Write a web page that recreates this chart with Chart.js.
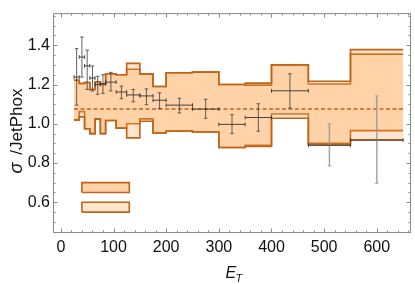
<!DOCTYPE html>
<html>
<head>
<meta charset="utf-8">
<script src="https://cdn.jsdelivr.net/npm/chart.js@4.4.1/dist/chart.umd.min.js"></script>
<style>
  html, body { margin: 0; padding: 0; background: #fff; }
  #wrap { width: 415px; height: 284px; position: relative; }
</style>
</head>
<body>
<div id="wrap"><canvas id="chart"></canvas></div>
<script>
// E_T bin edges
const binEdges = [25, 35, 45, 55, 65, 75, 85, 105, 125, 150, 175, 200, 250, 300, 350, 400, 470, 550, 650];

// theory bands (ratio to JetPhox), one value per bin
const band1Hi = [1.222, 1.205, 1.21, 1.175, 1.214, 1.20, 1.255, 1.25, 1.308, 1.253, 1.19, 1.26, 1.263, 1.20, 1.207, 1.30, 1.217, 1.378];
const band1Lo = [1.02, 1.035, 0.975, 0.95, 1.025, 0.95, 1.017, 0.978, 0.928, 1.013, 0.953, 0.963, 0.958, 0.879, 0.885, 1.028, 0.895, 0.917];
const band2Hi = [1.222, 1.205, 1.21, 1.175, 1.214, 1.20, 1.255, 1.25, 1.278, 1.253, 1.19, 1.26, 1.263, 1.20, 1.197, 1.30, 1.203, 1.355];
const band2Lo = [1.02, 1.062, 0.975, 0.95, 1.025, 0.95, 1.017, 0.978, 1.0, 1.025, 0.953, 0.963, 0.958, 0.879, 0.89, 1.05, 0.90, 0.965];

// measured points
const ptX     = [30, 40, 50, 60, 70, 80, 95, 115, 137.5, 162.5, 187.5, 225, 275, 325, 375, 435, 510, 600];
const ptY     = [1.238, 1.34, 1.295, 1.233, 1.20, 1.205, 1.212, 1.162, 1.147, 1.142, 1.12, 1.095, 1.075, 0.997, 1.032, 1.168, 0.89, 0.917];
const ptErrHi = [1.383, 1.442, 1.375, 1.295, 1.242, 1.25, 1.262, 1.192, 1.175, 1.178, 1.158, 1.13, 1.125, 1.047, 1.102, 1.255, 1.0, 1.142];
const ptErrLo = [1.095, 1.238, 1.175, 1.167, 1.15, 1.155, 1.167, 1.128, 1.112, 1.097, 1.078, 1.055, 1.028, 0.95, 0.962, 1.08, 0.785, 0.697];
const grayFrom = 16; // last points drawn with grey vertical bars

// dashed reference line
const refLevel = 1.075;
const refRange = [25, 650];

// legend swatches (no text)
const swatchX = [40, 130];
const swatch1Y = [0.65, 0.70];
const swatch2Y = [0.55, 0.60];

// ticks
const xMajor = [0, 100, 200, 300, 400, 500, 600];
const yMajor = [0.6, 0.8, 1.0, 1.2, 1.4];
const xMinorStep = 20;
const yMinorStep = 0.05;

const EDGE = '#bf6419';
const BAND_FILL = 'rgba(255,159,66,0.27)';
const FRAME = '#8a8a8a';
const FONT = "'Liberation Sans', Arial, Helvetica, sans-serif";

function stepData(vals) {
    const d = vals.map((v, i) => ({ x: binEdges[i], y: v }));
    d.push({ x: binEdges[binEdges.length - 1], y: vals[vals.length - 1] });
    return d;
}

// horizontal bars with gaps
const hBars = [];
ptX.forEach((x, i) => {
    hBars.push({ x: binEdges[i], y: ptY[i] }, { x: binEdges[i + 1], y: ptY[i] }, { x: binEdges[i + 1], y: null });
});
const vBarsDark = [], vBarsGray = [];
ptX.forEach((x, i) => {
    const arr = i >= grayFrom ? vBarsGray : vBarsDark;
    arr.push({ x: x, y: ptErrLo[i] }, { x: x, y: ptErrHi[i] }, { x: x, y: null });
});

function box(xs, ys) {
    return [
        { x: xs[0], y: ys[0] }, { x: xs[0], y: ys[1] }, { x: xs[1], y: ys[1] },
        { x: xs[1], y: ys[0] }, { x: xs[0], y: ys[0] }
    ];
}

const bandLine = { stepped: true, borderColor: EDGE, borderWidth: 1.6, pointRadius: 0, order: 10 };

const datasets = [
    { ...bandLine, data: stepData(band1Hi), fill: false },
    { ...bandLine, data: stepData(band1Lo), fill: '-1', backgroundColor: BAND_FILL },
    { ...bandLine, data: stepData(band2Hi), fill: false },
    { ...bandLine, data: stepData(band2Lo), fill: '-1', backgroundColor: BAND_FILL },
    // swatches
    { data: [{ x: swatchX[0], y: swatch1Y[1] }, { x: swatchX[1], y: swatch1Y[1] }], borderWidth: 0, pointRadius: 0, fill: false, order: 9 },
    { data: [{ x: swatchX[0], y: swatch1Y[0] }, { x: swatchX[1], y: swatch1Y[0] }], borderWidth: 0, pointRadius: 0, fill: '-1', backgroundColor: 'rgb(255,210,167)', order: 9 },
    { data: [{ x: swatchX[0], y: swatch2Y[1] }, { x: swatchX[1], y: swatch2Y[1] }], borderWidth: 0, pointRadius: 0, fill: false, order: 9 },
    { data: [{ x: swatchX[0], y: swatch2Y[0] }, { x: swatchX[1], y: swatch2Y[0] }], borderWidth: 0, pointRadius: 0, fill: '-1', backgroundColor: 'rgb(255,229,204)', order: 9 },
    { data: box(swatchX, swatch1Y), borderColor: EDGE, borderWidth: 1.6, pointRadius: 0, fill: false, order: 8 },
    { data: box(swatchX, swatch2Y), borderColor: EDGE, borderWidth: 1.6, pointRadius: 0, fill: false, order: 8 },
    // reference
    { data: [{ x: refRange[0], y: refLevel }, { x: refRange[1], y: refLevel }], borderColor: EDGE, borderWidth: 1.5, borderDash: [4, 2.5], pointRadius: 0, fill: false, order: 5 },
    // error bars
    { data: vBarsGray, borderColor: 'rgba(150,150,150,0.9)', borderWidth: 1.4, spanGaps: false, fill: false,
      pointStyle: 'line', pointRadius: 1.8, pointBorderColor: 'rgba(150,150,150,0.9)', pointBorderWidth: 1, pointRotation: 0, order: 3 },
    { data: vBarsDark, borderColor: 'rgba(60,60,60,0.8)', borderWidth: 1, spanGaps: false, fill: false,
      pointStyle: 'line', pointRadius: 1.8, pointBorderColor: 'rgba(60,60,60,0.8)', pointBorderWidth: 1, pointRotation: 0, order: 2 },
    { data: hBars, borderColor: 'rgba(50,50,50,0.9)', borderWidth: 1, spanGaps: false, fill: false,
      pointStyle: 'line', pointRadius: 1.8, pointBorderColor: 'rgba(50,50,50,0.9)', pointBorderWidth: 1, pointRotation: 90, order: 1 }
];

// frame, inward ticks and axis titles
const framePlugin = {
    id: 'frame',
    afterDraw(chart) {
        const { ctx, chartArea: a, scales } = chart;
        const L = a.left - 0.5, R = a.right + 0.5, T = a.top, B = a.bottom + 0.5;
        ctx.save();
        ctx.strokeStyle = FRAME;
        ctx.lineWidth = 1;
        ctx.strokeRect(L, T, R - L, B - T);
        ctx.beginPath();
        for (let v = 0; v <= scales.x.max; v += xMinorStep) {
            const px = Math.round(scales.x.getPixelForValue(v)) + 0.5;
            const len = v % 100 === 0 ? 4 : 2;
            ctx.moveTo(px, B); ctx.lineTo(px, B - len);
            ctx.moveTo(px, T); ctx.lineTo(px, T + len);
        }
        for (let k = 9; k * yMinorStep <= scales.y.max; k++) {
            const v = k * yMinorStep;
            const py = Math.round(scales.y.getPixelForValue(v)) + 0.5;
            const len = k % 4 === 0 ? 4 : 2;
            ctx.moveTo(L, py); ctx.lineTo(L + len, py);
            ctx.moveTo(R, py); ctx.lineTo(R - len, py);
        }
        ctx.stroke();

        // x title E_T
        ctx.fillStyle = '#111';
        ctx.textBaseline = 'alphabetic';
        ctx.textAlign = 'left';
        ctx.font = "italic 16px " + FONT;
        ctx.fillText('E', 225.5, 278);
        ctx.font = "italic 11px " + FONT;
        ctx.fillText('T', 235.5, 281.5);

        // y title
        ctx.translate(21.5, 131);
        ctx.rotate(-Math.PI / 2);
        const s1 = 'σ ';
        const s2 = '/JetPhox';
        const gap = 3;
        ctx.font = "italic 18px " + FONT;
        const w1 = ctx.measureText(s1).width + gap;
        ctx.font = "17px " + FONT;
        const w2 = ctx.measureText(s2).width;
        ctx.textAlign = 'left';
        ctx.font = "italic 18px " + FONT;
        ctx.fillText(s1, -(w1 + w2) / 2, 0);
        ctx.font = "17px " + FONT;
        ctx.fillText(s2, -(w1 + w2) / 2 + w1, 0);
        ctx.restore();
    }
};

new Chart(document.getElementById('chart'), {
    type: 'line',
    data: { datasets },
    options: {
        responsive: true,
        maintainAspectRatio: false,
        animation: false,
        layout: { padding: { top: 9.5, right: 1, left: 0, bottom: 0 } },
        plugins: { legend: { display: false }, tooltip: { enabled: false } },
        scales: {
            x: {
                type: 'linear', min: -13, max: 663,
                grid: { display: false, drawTicks: false }, border: { display: false },
                afterBuildTicks: s => { s.ticks = xMajor.map(v => ({ value: v })); },
                afterFit: s => { s.height = 52; },
                ticks: { autoSkip: false, maxRotation: 0, padding: 6, color: '#111', font: { family: FONT, size: 16 }, callback: v => String(v) }
            },
            y: {
                type: 'linear', min: 0.4486, max: 1.5614,
                grid: { display: false, drawTicks: false }, border: { display: false },
                afterBuildTicks: s => { s.ticks = yMajor.map(v => ({ value: v })); },
                afterFit: s => { s.width = 54; },
                ticks: { autoSkip: false, padding: 4, color: '#111', font: { family: FONT, size: 16 }, callback: v => Number(v).toFixed(1) }
            }
        }
    },
    plugins: [framePlugin]
});
</script>
</body>
</html>
